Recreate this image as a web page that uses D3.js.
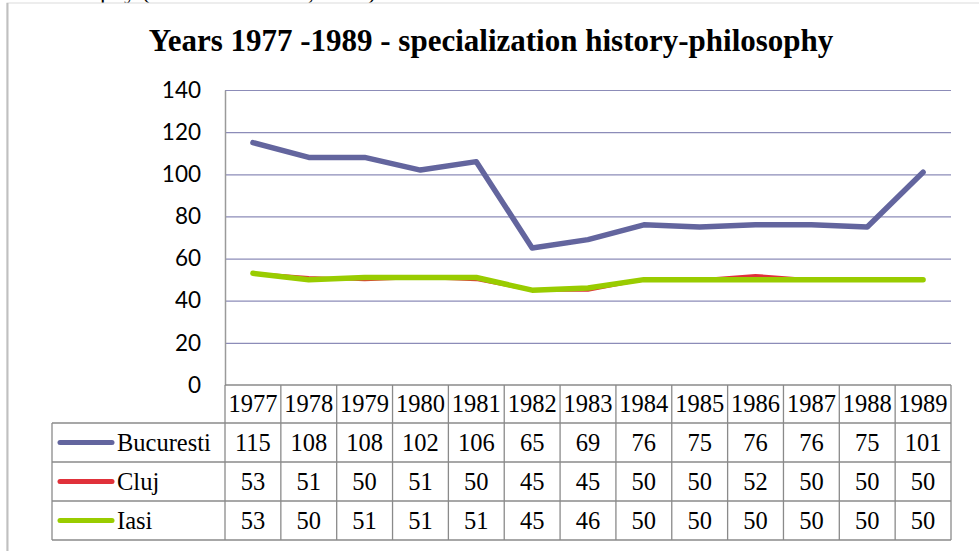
<!DOCTYPE html>
<html><head><meta charset="utf-8">
<script src="https://cdn.jsdelivr.net/npm/d3@7"></script>
<style>body{margin:0;background:#fff}svg{display:block}</style>
</head><body>
<script>
const title = "Years 1977 -1989 - specialization history-philosophy";
const years = ["1977","1978","1979","1980","1981","1982","1983","1984","1985","1986","1987","1988","1989"];
const seriesNames = ["Bucuresti","Cluj","Iasi"];
const bucuresti = [115,108,108,102,106,65,69,76,75,76,76,75,101];
const cluj = [53,51,50,51,50,45,45,50,50,52,50,50,50];
const iasi = [53,50,51,51,51,45,46,50,50,50,50,50,50];
const yTicks = [0,20,40,60,80,100,120,140];
const colors = ["#63659e","#e0313a","#99cc00"];
const widths = [5.5,3,5.5];

const W=979,H=551;
const svg=d3.select("body").append("svg").attr("width",W).attr("height",H);
const serif="'Liberation Serif','DejaVu Serif',serif";
const sans="Lato,'Open Sans',sans-serif";

// page fragment & frame
svg.append("text").attr("x",100).attr("y",-1).attr("font-family",serif).attr("font-size",24).attr("fill","#000").text("phy (source: Brătianu, 2013)");
svg.append("rect").attr("x",7).attr("y",3).attr("width",W).attr("height",H).attr("fill","#fff").attr("stroke","#dcdcdc").attr("stroke-width",1);
svg.append("line").attr("x1",7.5).attr("x2",7.5).attr("y1",3).attr("y2",H).attr("stroke","#c0c0c0").attr("stroke-width",2);

svg.append("text").attr("x",491).attr("y",51).attr("text-anchor","middle").attr("font-family",serif).attr("font-weight","bold").attr("font-size",31).text(title);

const x=d3.scaleBand().domain(years).range([225,951]);
const y=d3.scaleLinear().domain([0,140]).range([385,90]);

// grid
svg.append("g").selectAll("line").data(yTicks.filter(d=>d>0)).join("line")
 .attr("x1",225).attr("x2",951).attr("y1",d=>y(d)+0.5).attr("y2",d=>y(d)+0.5)
 .attr("stroke","#8c8cb8").attr("stroke-width",1.2);
// y axis
const ya=svg.append("g").attr("transform","translate(225,0)").call(d3.axisLeft(y).tickValues(yTicks).tickSize(0).tickPadding(24));
ya.select(".domain").attr("stroke","#9a9a9a").attr("stroke-width",1.5);
ya.selectAll("text").attr("font-family",sans).attr("font-size",22.5).attr("fill","#000");

// lines
const data=[bucuresti,cluj,iasi];
const line=d3.line().x((d,i)=>x(years[i])+x.bandwidth()/2).y(d=>y(d));
[1,2,0].forEach(k=>{
 svg.append("path").datum(data[k]).attr("d",line).attr("fill","none")
  .attr("stroke",colors[k]).attr("stroke-width",widths[k]).attr("stroke-linejoin","round").attr("stroke-linecap","round");
});

// table
const rowTop=[385,423,462,501,540];
const tc="#8a8a8a";
const fs=24.5;
const tg=svg.append("g");
tg.append("line").attr("x1",225).attr("x2",951).attr("y1",385).attr("y2",385).attr("stroke",tc).attr("stroke-width",1.5);
for(let r=1;r<5;r++) tg.append("line").attr("x1",52).attr("x2",951).attr("y1",rowTop[r]).attr("y2",rowTop[r]).attr("stroke",tc).attr("stroke-width",1.3);
tg.append("line").attr("x1",52).attr("x2",52).attr("y1",423).attr("y2",540).attr("stroke",tc).attr("stroke-width",1.3);
years.forEach(yr=>tg.append("line").attr("x1",x(yr)).attr("x2",x(yr)).attr("y1",385).attr("y2",540).attr("stroke",tc).attr("stroke-width",1.3));
tg.append("line").attr("x1",951).attr("x2",951).attr("y1",385).attr("y2",540).attr("stroke",tc).attr("stroke-width",1.3);
tg.selectAll("text.yr").data(years).join("text").attr("class","yr")
 .attr("x",d=>x(d)+x.bandwidth()/2).attr("y",(rowTop[0]+rowTop[1])/2+8).attr("text-anchor","middle")
 .attr("font-family",serif).attr("font-size",fs).text(d=>d);
data.forEach((vals,k)=>{
 const cy=(rowTop[k+1]+rowTop[k+2])/2;
 tg.append("line").attr("x1",60).attr("x2",112).attr("y1",cy).attr("y2",cy).attr("stroke",colors[k]).attr("stroke-width",5).attr("stroke-linecap","round");
 tg.append("text").attr("x",117).attr("y",cy+8).attr("font-family",serif).attr("font-size",fs).text(seriesNames[k]);
 tg.selectAll("text.v"+k).data(vals).join("text").attr("class","v"+k)
  .attr("x",(d,i)=>x(years[i])+x.bandwidth()/2).attr("y",cy+8).attr("text-anchor","middle")
  .attr("font-family",serif).attr("font-size",fs).text(d=>d);
});
</script>
</body></html>
